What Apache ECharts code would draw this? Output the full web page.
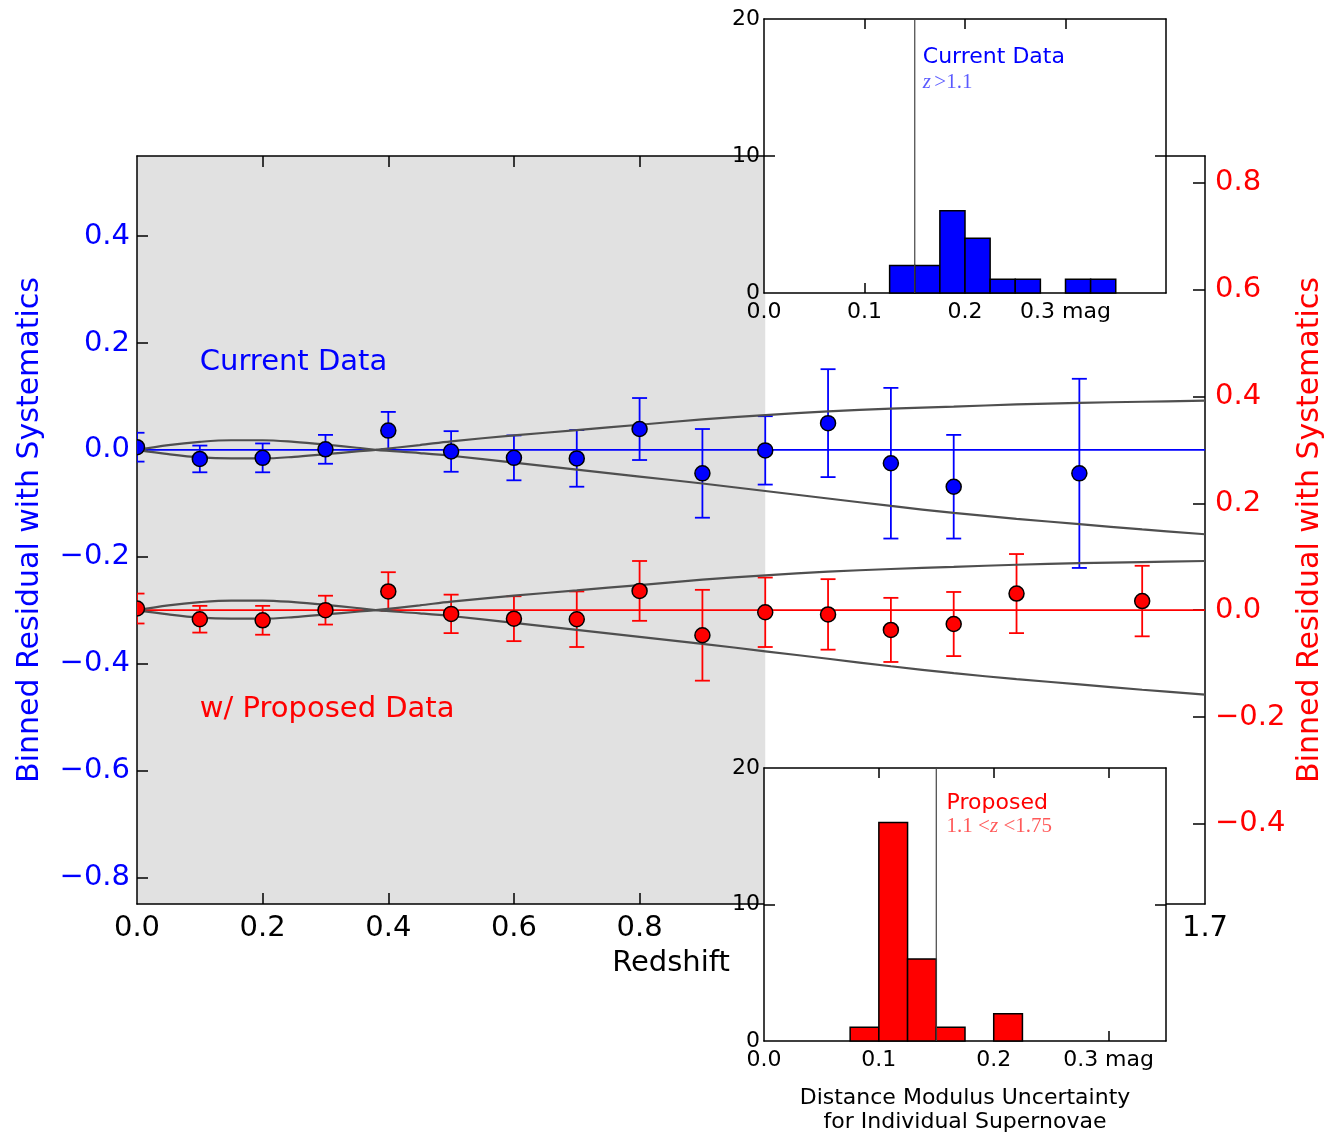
<!DOCTYPE html>
<html>
<head>
<meta charset="utf-8">
<script src="https://cdn.jsdelivr.net/npm/echarts@6/dist/echarts.min.js"></script>
<style>
  html, body { margin: 0; padding: 0; background: #ffffff; }
  #chart { width: 1326px; height: 1134px; }
</style>
</head>
<body>
<div id="chart"></div>
<script>
// ---- Binned residuals, current sample (left axis) ----
const currentRedshift = [0.0, 0.1, 0.2, 0.3, 0.4, 0.5, 0.6, 0.7, 0.8, 0.9, 1.0, 1.1, 1.2, 1.3, 1.5];
const currentResidual = [0.005, -0.017, -0.015, 0.001, 0.036, -0.003, -0.015, -0.016, 0.039, -0.044, -0.001, 0.050, -0.025, -0.069, -0.044];
const currentError    = [0.027, 0.025, 0.027, 0.027, 0.035, 0.038, 0.042, 0.053, 0.058, 0.083, 0.064, 0.101, 0.141, 0.097, 0.177];

// ---- Binned residuals, with proposed sample (right axis) ----
const proposedRedshift = [0.0, 0.1, 0.2, 0.3, 0.4, 0.5, 0.6, 0.7, 0.8, 0.9, 1.0, 1.1, 1.2, 1.3, 1.4, 1.6];
const proposedResidual = [0.003, -0.017, -0.019, 0.000, 0.035, -0.007, -0.016, -0.017, 0.036, -0.047, -0.004, -0.008, -0.037, -0.026, 0.031, 0.017];
const proposedError    = [0.028, 0.025, 0.027, 0.027, 0.036, 0.036, 0.042, 0.052, 0.056, 0.085, 0.065, 0.066, 0.060, 0.060, 0.074, 0.066];

// ---- Alternative cosmology envelopes (residual vs. reference model) ----
const modelRedshift = [0, 0.05, 0.1, 0.15, 0.2, 0.25, 0.3, 0.35, 0.38, 0.45, 0.5, 0.6, 0.7, 0.8, 0.9, 1.0, 1.1, 1.2, 1.3, 1.4, 1.5, 1.6, 1.7];
const modelLower = [0, 0.009, 0.015, 0.018, 0.018, 0.015, 0.010, 0.004, 0, -0.006, -0.011, -0.024, -0.037, -0.050, -0.063, -0.077, -0.091, -0.105, -0.118, -0.129, -0.139, -0.149, -0.158];
const modelUpper = [0, -0.008, -0.014, -0.016, -0.016, -0.013, -0.008, -0.003, 0, 0.009, 0.016, 0.027, 0.037, 0.047, 0.057, 0.065, 0.072, 0.077, 0.081, 0.085, 0.088, 0.090, 0.092];

// redshift range already covered well by ground-based data
const shadedRedshift = [0.0, 1.0];

// ---- Per-supernova distance modulus uncertainty histograms ----
const histBinWidth = 0.025;
const currentBinStart = [0.125, 0.15, 0.175, 0.2, 0.225, 0.25, 0.3, 0.325];
const currentCounts   = [2, 2, 6, 4, 1, 1, 1, 1];
const proposedBinStart = [0.075, 0.1, 0.125, 0.15, 0.2];
const proposedCounts   = [1, 16, 6, 1, 2];
const referenceUncertainty = 0.15;

// ---- Tick values ----
const mainXTicks  = [0, 0.2, 0.4, 0.6, 0.8, 1.7];
const mainXMinor  = [0.2, 0.4, 0.6, 0.8, 1.0, 1.2, 1.4, 1.6];
const leftYTicks  = [-0.8, -0.6, -0.4, -0.2, 0, 0.2, 0.4];
const rightYTicks = [-0.4, -0.2, 0, 0.2, 0.4, 0.6, 0.8];
const histXTicks  = [0, 0.1, 0.2, 0.3];
const histYTicks  = [0, 10, 20];

const BLUE = '#0000ff';
const RED = '#ff0000';
const FONT = 'DejaVu Sans';
const MAIN_FS = 29;
const NAME_FS = 30;
const INSET_FS = 22;

const fmtSigned = v => (v < -1e-9 ? '\u2212' : '') + Math.abs(v).toFixed(1);

function zip3(a, b, c) { return a.map((v, i) => [v, b[i], c[i]]); }
function zip2(a, b) { return a.map((v, i) => [v, b[i]]); }

function errorBars(color) {
  return function (params, api) {
    const x = api.value(0), y = api.value(1), e = api.value(2);
    const lo = api.coord([x, y - e]);
    const hi = api.coord([x, y + e]);
    const hw = 7.5;
    const style = { stroke: color, lineWidth: 1.8, fill: null };
    return {
      type: 'group',
      children: [
        { type: 'line', shape: { x1: lo[0], y1: lo[1], x2: hi[0], y2: hi[1] }, style },
        { type: 'line', shape: { x1: lo[0] - hw, y1: lo[1], x2: lo[0] + hw, y2: lo[1] }, style },
        { type: 'line', shape: { x1: hi[0] - hw, y1: hi[1], x2: hi[0] + hw, y2: hi[1] }, style }
      ]
    };
  };
}

function dots(color) {
  return function (params, api) {
    const p = api.coord([api.value(0), api.value(1)]);
    return {
      type: 'circle',
      shape: { cx: p[0], cy: p[1], r: 7.5 },
      style: { fill: color, stroke: '#000', lineWidth: 1.5 }
    };
  };
}

function histBars(color) {
  return function (params, api) {
    const x0 = api.value(0), c = api.value(1);
    const p0 = api.coord([x0, 0]);
    const p1 = api.coord([x0 + histBinWidth, c]);
    return {
      type: 'rect',
      shape: { x: p0[0], y: p1[1], width: p1[0] - p0[0], height: p0[1] - p1[1] },
      style: { fill: color, stroke: '#000', lineWidth: 1.5 }
    };
  };
}

function shadeBand(params, api) {
  const cs = params.coordSys;
  const a = api.coord([api.value(0), 0]);
  const b = api.coord([api.value(1), 0]);
  return {
    type: 'rect',
    shape: { x: a[0], y: cs.y, width: b[0] - a[0], height: cs.height },
    style: { fill: '#e1e1e1' }
  };
}

const axisLineStyle = { show: true, onZero: false, lineStyle: { color: '#000', width: 1.5 } };

function frameAxis(extra) {
  return Object.assign({
    type: 'value',
    axisLine: axisLineStyle,
    splitLine: { show: false },
    axisLabel: { show: false },
    axisTick: { show: false },
    nameMoveOverlap: false
  }, extra);
}

const mainGrid  = { left: 137, top: 156, width: 1068, height: 748, show: false, containLabel: false, outerBoundsMode: 'none', z: 0 };
const topInset  = { left: 764, top: 19, width: 402, height: 274, show: true, backgroundColor: '#ffffff', borderWidth: 0, containLabel: false, outerBoundsMode: 'none', z: 3 };
const botInset  = { left: 764, top: 768, width: 402, height: 273, show: true, backgroundColor: '#ffffff', borderWidth: 0, containLabel: false, outerBoundsMode: 'none', z: 3 };

const insetXLabel = {
  show: true, customValues: histXTicks, color: '#000', fontFamily: FONT, fontSize: INSET_FS, margin: 8,
  formatter: v => (Math.abs(v - 0.3) < 1e-9 ? '0.3 mag' : v.toFixed(1))
};
const insetYLabel = {
  show: true, customValues: histYTicks, color: '#000', fontFamily: FONT, fontSize: INSET_FS, margin: 4,
  formatter: v => String(Math.round(v))
};
const insetXTick = { show: true, inside: true, length: 10, customValues: [0.1, 0.2, 0.3], lineStyle: { color: '#000', width: 1.5 } };
const insetYTick = { show: true, inside: true, length: 11, customValues: [10], lineStyle: { color: '#000', width: 1.5 } };

const option = {
  animation: false,
  backgroundColor: '#ffffff',
  grid: [mainGrid, topInset, botInset],
  xAxis: [
    // main redshift axis (bottom)
    frameAxis({
      gridIndex: 0, position: 'bottom', min: 0, max: 1.7, z: 2,
      axisLabel: { show: true, customValues: mainXTicks, color: '#000', fontFamily: FONT, fontSize: MAIN_FS, margin: 10, formatter: v => v.toFixed(1) },
      axisTick: { show: true, inside: true, length: 11, customValues: mainXMinor, lineStyle: { color: '#000', width: 1.5 } },
      name: 'Redshift', nameLocation: 'middle', nameGap: 45,
      nameTextStyle: { color: '#000', fontFamily: FONT, fontSize: MAIN_FS }
    }),
    // main frame (top)
    frameAxis({
      gridIndex: 0, position: 'top', min: 0, max: 1.7, z: 2,
      axisTick: { show: true, inside: true, length: 11, customValues: mainXMinor, lineStyle: { color: '#000', width: 1.5 } }
    }),
    // upper inset
    frameAxis({ gridIndex: 1, position: 'bottom', min: 0, max: 0.4, z: 4, axisLabel: insetXLabel, axisTick: insetXTick }),
    frameAxis({ gridIndex: 1, position: 'top', min: 0, max: 0.4, z: 4, axisTick: insetXTick }),
    // lower inset
    frameAxis({
      gridIndex: 2, position: 'bottom', min: 0, max: 0.35, z: 4, axisLabel: insetXLabel, axisTick: insetXTick,
      name: 'Distance Modulus Uncertainty\nfor Individual Supernovae', nameLocation: 'middle', nameGap: 45,
      nameTextStyle: { color: '#000', fontFamily: FONT, fontSize: INSET_FS, lineHeight: 24, align: 'center' }
    }),
    frameAxis({ gridIndex: 2, position: 'top', min: 0, max: 0.35, z: 4, axisTick: insetXTick })
  ],
  yAxis: [
    frameAxis({
      gridIndex: 0, position: 'left', min: -0.85, max: 0.55, z: 2,
      axisLabel: { show: true, customValues: leftYTicks, color: BLUE, fontFamily: FONT, fontSize: MAIN_FS, margin: 7, formatter: fmtSigned },
      axisTick: { show: true, inside: true, length: 11, customValues: leftYTicks, lineStyle: { color: '#000', width: 1.5 } },
      name: 'Binned Residual with Systematics', nameLocation: 'middle', nameRotate: 90, nameGap: 92,
      nameTextStyle: { color: BLUE, fontFamily: FONT, fontSize: NAME_FS }
    }),
    frameAxis({
      gridIndex: 0, position: 'right', min: -0.55, max: 0.85, z: 2,
      axisLabel: { show: true, customValues: rightYTicks, color: RED, fontFamily: FONT, fontSize: MAIN_FS, margin: 10, formatter: fmtSigned },
      axisTick: { show: true, inside: true, length: 12, customValues: rightYTicks, lineStyle: { color: '#000', width: 1.5 } },
      name: 'Binned Residual with Systematics', nameLocation: 'middle', nameRotate: 90, nameGap: 90,
      nameTextStyle: { color: RED, fontFamily: FONT, fontSize: NAME_FS }
    }),
    frameAxis({ gridIndex: 1, position: 'left', min: 0, max: 20, z: 4, axisLabel: insetYLabel, axisTick: insetYTick }),
    frameAxis({ gridIndex: 1, position: 'right', min: 0, max: 20, z: 4, axisTick: insetYTick }),
    frameAxis({ gridIndex: 2, position: 'left', min: 0, max: 20, z: 4, axisLabel: insetYLabel, axisTick: insetYTick }),
    frameAxis({ gridIndex: 2, position: 'right', min: 0, max: 20, z: 4, axisTick: insetYTick })
  ],
  series: [
    // shaded redshift band
    { type: 'custom', xAxisIndex: 0, yAxisIndex: 0, z: 1, clip: true, silent: true,
      renderItem: shadeBand, data: [shadedRedshift], encode: { x: [0, 1] } },

    // zero lines
    { type: 'line', xAxisIndex: 0, yAxisIndex: 0, z: 5, showSymbol: false, silent: true,
      lineStyle: { color: BLUE, width: 1.6 }, data: [[0, 0], [1.7, 0]] },
    { type: 'line', xAxisIndex: 0, yAxisIndex: 1, z: 5, showSymbol: false, silent: true,
      lineStyle: { color: RED, width: 1.6 }, data: [[0, 0], [1.7, 0]] },

    // error bars
    { type: 'custom', xAxisIndex: 0, yAxisIndex: 0, z: 5, clip: true,
      renderItem: errorBars(BLUE), data: zip3(currentRedshift, currentResidual, currentError), encode: { x: 0, y: 1 } },
    { type: 'custom', xAxisIndex: 0, yAxisIndex: 1, z: 5, clip: true,
      renderItem: errorBars(RED), data: zip3(proposedRedshift, proposedResidual, proposedError), encode: { x: 0, y: 1 } },

    // model envelopes
    { type: 'line', xAxisIndex: 0, yAxisIndex: 0, z: 6, smooth: 0.35, showSymbol: false, silent: true,
      lineStyle: { color: '#4f4f4f', width: 2.2 }, data: zip2(modelRedshift, modelLower) },
    { type: 'line', xAxisIndex: 0, yAxisIndex: 0, z: 6, smooth: 0.35, showSymbol: false, silent: true,
      lineStyle: { color: '#4f4f4f', width: 2.2 }, data: zip2(modelRedshift, modelUpper) },
    { type: 'line', xAxisIndex: 0, yAxisIndex: 1, z: 6, smooth: 0.35, showSymbol: false, silent: true,
      lineStyle: { color: '#4f4f4f', width: 2.2 }, data: zip2(modelRedshift, modelLower) },
    { type: 'line', xAxisIndex: 0, yAxisIndex: 1, z: 6, smooth: 0.35, showSymbol: false, silent: true,
      lineStyle: { color: '#4f4f4f', width: 2.2 }, data: zip2(modelRedshift, modelUpper) },

    // binned points
    { type: 'custom', xAxisIndex: 0, yAxisIndex: 0, z: 7, clip: true,
      renderItem: dots(BLUE), data: zip2(currentRedshift, currentResidual), encode: { x: 0, y: 1 } },
    { type: 'custom', xAxisIndex: 0, yAxisIndex: 1, z: 7, clip: true,
      renderItem: dots(RED), data: zip2(proposedRedshift, proposedResidual), encode: { x: 0, y: 1 } },

    // histograms
    { type: 'custom', xAxisIndex: 2, yAxisIndex: 2, z: 5,
      renderItem: histBars(BLUE), data: zip2(currentBinStart, currentCounts), encode: { x: 0, y: 1 } },
    { type: 'line', xAxisIndex: 2, yAxisIndex: 2, z: 6, showSymbol: false, silent: true,
      lineStyle: { color: '#444', width: 1.2 }, data: [[referenceUncertainty, 0], [referenceUncertainty, 20]] },
    { type: 'custom', xAxisIndex: 4, yAxisIndex: 4, z: 5,
      renderItem: histBars(RED), data: zip2(proposedBinStart, proposedCounts), encode: { x: 0, y: 1 } },
    { type: 'line', xAxisIndex: 4, yAxisIndex: 4, z: 6, showSymbol: false, silent: true,
      lineStyle: { color: '#444', width: 1.2 }, data: [[referenceUncertainty, 0], [referenceUncertainty, 20]] }
  ]
};

const chart = echarts.init(document.getElementById('chart'), null, { renderer: 'canvas' });
chart.setOption(option);

// text annotations anchored in data coordinates
const px = (xi, yi, p) => chart.convertToPixel({ xAxisIndex: xi, yAxisIndex: yi }, p);
const pCur = px(0, 0, [0.1, 0.164]);
const pProp = px(0, 0, [0.1, -0.486]);
const pTop1 = px(2, 2, [0.158, 17.2]);
const pTop2 = px(2, 2, [0.158, 15.4]);
const pBot1 = px(4, 4, [0.159, 17.4]);
const pBot2 = px(4, 4, [0.159, 15.7]);

const mathRich = (color) => ({
  it: { fontFamily: 'Liberation Serif', fontStyle: 'italic', fontSize: 21, fill: color, color: color },
  n: { fontFamily: 'Liberation Serif', fontSize: 21, fill: color, color: color }
});

chart.setOption({
  graphic: [
    { type: 'text', z: 20, x: pCur[0], y: pCur[1],
      style: { text: 'Current Data', fill: BLUE, font: MAIN_FS + 'px "' + FONT + '"', verticalAlign: 'middle', align: 'left' } },
    { type: 'text', z: 20, x: pProp[0], y: pProp[1],
      style: { text: 'w/ Proposed Data', fill: RED, font: MAIN_FS + 'px "' + FONT + '"', verticalAlign: 'middle', align: 'left' } },
    { type: 'text', z: 20, x: pTop1[0], y: pTop1[1],
      style: { text: 'Current Data', fill: BLUE, font: '22px "' + FONT + '"', verticalAlign: 'middle', align: 'left' } },
    { type: 'text', z: 20, x: pTop2[0], y: pTop2[1],
      style: { text: '{it|z} {n|>1.1}', rich: mathRich('rgba(0,0,255,0.65)'), verticalAlign: 'middle', align: 'left' } },
    { type: 'text', z: 20, x: pBot1[0], y: pBot1[1],
      style: { text: 'Proposed', fill: RED, font: '22px "' + FONT + '"', verticalAlign: 'middle', align: 'left' } },
    { type: 'text', z: 20, x: pBot2[0], y: pBot2[1],
      style: { text: '{n|1.1 <}{it|z}{n| <1.75}', rich: mathRich('rgba(255,0,0,0.65)'), verticalAlign: 'middle', align: 'left' } }
  ]
});
</script>
</body>
</html>
